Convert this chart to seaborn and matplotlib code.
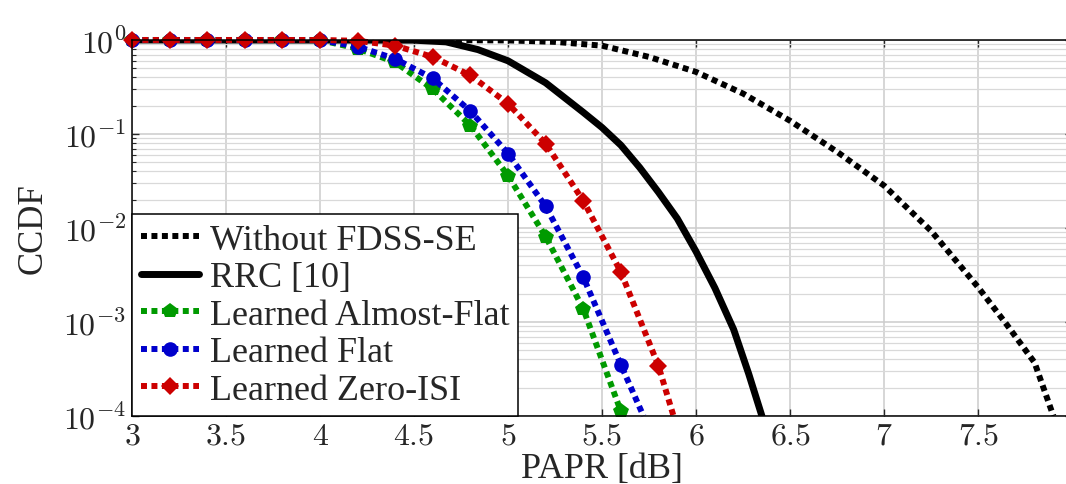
import matplotlib
matplotlib.use("Agg")
import matplotlib.pyplot as plt
import numpy as np
import seaborn as sns

# seaborn settings
sns.set_style("ticks")
plt.rcParams["font.family"] = ["Liberation Serif", "DejaVu Serif"]
plt.rcParams["mathtext.fontset"] = "cm"

# CCDF curves
papr_nofdss = [3.0, 4.5, 5.0, 5.25, 5.5, 5.75, 6.0, 6.25, 6.5, 6.75, 7.0,
               7.25, 7.5, 7.65, 7.8, 7.9]
ccdf_nofdss = [1.0, 1.0, 0.99, 0.955, 0.87, 0.66, 0.457, 0.269, 0.138,
               0.0646, 0.0282, 0.0093, 0.00234, 0.00095, 0.00037, 0.0001]

papr_rrc = [3.0, 4.5, 4.67, 4.84, 5.0, 5.2, 5.4, 5.5, 5.6, 5.7, 5.8, 5.9,
            6.0, 6.1, 6.2, 6.28, 6.35]
ccdf_rrc = [1.0, 0.995, 0.955, 0.79, 0.6, 0.35, 0.17, 0.117, 0.076, 0.044,
            0.024, 0.0126, 0.0056, 0.0023, 0.00083, 0.00028, 0.0001]

papr_almost = [3.0, 3.2, 3.4, 3.6, 3.8, 4.0, 4.2, 4.4, 4.6, 4.8, 5.0, 5.2,
               5.4, 5.6]
ccdf_almost = [1.0, 1.0, 1.0, 1.0, 1.0, 1.0, 0.81, 0.58, 0.30, 0.123, 0.036,
               0.0081, 0.00138, 0.000112]

papr_flat = [3.0, 3.2, 3.4, 3.6, 3.8, 4.0, 4.2, 4.4, 4.6, 4.8, 5.0, 5.2,
             5.4, 5.6, 5.72]
ccdf_flat = [1.0, 1.0, 1.0, 1.0, 1.0, 1.0, 0.85, 0.63, 0.39, 0.175, 0.062,
             0.017, 0.003, 0.00035, 0.0001]

papr_zero = [3.0, 3.2, 3.4, 3.6, 3.8, 4.0, 4.2, 4.4, 4.6, 4.8, 5.0, 5.2,
             5.4, 5.6, 5.8, 5.88]
ccdf_zero = [1.0, 1.0, 1.0, 1.0, 1.0, 1.0, 0.98, 0.87, 0.66, 0.42, 0.21,
             0.079, 0.0195, 0.0034, 0.00034, 0.0001]

x_ticks = [3, 3.5, 4, 4.5, 5, 5.5, 6, 6.5, 7, 7.5, 8]
y_ticks = [1e-4, 1e-3, 1e-2, 1e-1, 1e0]

dots = (0, (1, 0.75))

fig = plt.figure(figsize=(10.66, 4.85), dpi=100)
# axes runs a little past the right edge of the figure, as in the source
ax = fig.add_axes([0.1238, 0.1402, 0.882, 0.7753])

sns.lineplot(x=papr_nofdss, y=ccdf_nofdss, color="black", lw=4.3,
             linestyle=dots, label="Without FDSS-SE", ax=ax)
sns.lineplot(x=papr_rrc, y=ccdf_rrc, color="black", lw=5,
             label="RRC [10]", ax=ax)
sns.lineplot(x=papr_almost, y=ccdf_almost, color="#009a00", lw=4.3,
             linestyle=dots, marker="p", markersize=11.5, markeredgewidth=0,
             label="Learned Almost-Flat", ax=ax, clip_on=False)
sns.lineplot(x=papr_flat, y=ccdf_flat, color="#0000cc", lw=4.3,
             linestyle=dots, marker="o", markersize=10.5, markeredgewidth=0,
             markevery=list(range(len(papr_flat) - 1)),
             label="Learned Flat", ax=ax, clip_on=False)
sns.lineplot(x=papr_zero, y=ccdf_zero, color="#cc0000", lw=4.3,
             linestyle=dots, marker="D", markersize=9.5, markeredgewidth=0,
             markevery=list(range(len(papr_zero) - 1)),
             label="Learned Zero-ISI", ax=ax, clip_on=False)

ax.set_yscale("log")
ax.set_xlim(3, 8)
ax.set_ylim(1e-4, 1)

ax.set_xticks(x_ticks)
ax.set_xticklabels(["$%g$" % t for t in x_ticks])
ax.set_yticks(y_ticks)
ax.set_yticklabels(["$10^{%d}$" % int(np.log10(t)) for t in y_ticks])
ax.tick_params(axis="both", which="major", labelsize=23, direction="in",
               length=5, width=1, top=True, right=True, pad=4)
ax.tick_params(axis="y", which="minor", direction="in", length=3, width=0.8,
               right=True)

ax.grid(True, which="major", color="#cccccc", lw=1.1)
ax.grid(True, which="minor", axis="y", color="#d9d9d9", lw=0.9)
for s in ax.spines.values():
    s.set_linewidth(1.1)
    s.set_color("black")

ax.set_xlabel("PAPR [dB]", fontsize=26)
ax.xaxis.set_label_coords(0.5, -0.095)
ax.set_ylabel("CCDF", fontsize=25)
ax.yaxis.set_label_coords(-0.088, 0.5)

leg = ax.legend(loc="lower left", fontsize=26, frameon=True, fancybox=False,
                edgecolor="black", borderaxespad=0, handlelength=1.6,
                handletextpad=0.3, labelspacing=0.12, borderpad=0.25,
                framealpha=1)
leg.get_frame().set_linewidth(1.1)

fig.savefig("out.png", dpi=100)
